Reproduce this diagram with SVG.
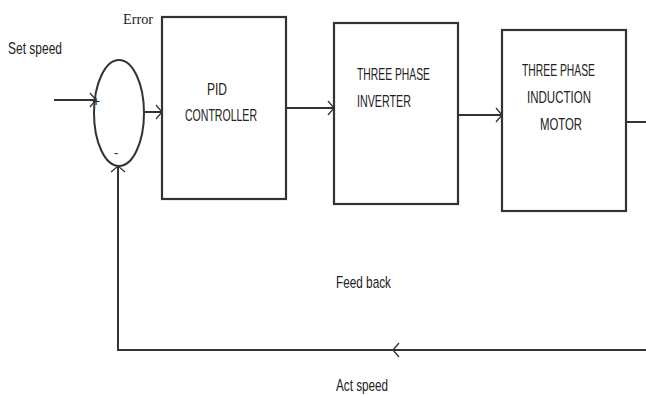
<svg xmlns="http://www.w3.org/2000/svg" width="646" height="396" viewBox="0 0 646 396">
<defs>
<marker id="chev" markerUnits="userSpaceOnUse" markerWidth="12" markerHeight="16" refX="7" refY="8" orient="auto">
<path d="M1,1 L7,8 L1,15" fill="none" stroke="#333" stroke-width="1.3"/>
</marker>
<style>
.box{fill:#fff;stroke:#333;stroke-width:2.2}
.ln{fill:none;stroke:#333;stroke-width:2}
.t{font-family:"Liberation Sans",Arial,sans-serif;font-size:17px;fill:#222}
.s{font-family:"Liberation Serif","Times New Roman",serif;font-size:14px;fill:#222}
</style>
</defs>
<rect width="646" height="396" fill="#fff"/>
<g id="labels">
<text class="t" x="8" y="54" textLength="54" lengthAdjust="spacingAndGlyphs">Set speed</text>
<text class="s" x="123" y="24" textLength="30" lengthAdjust="spacingAndGlyphs">Error</text>
<text class="t" x="336" y="288" textLength="55" lengthAdjust="spacingAndGlyphs">Feed back</text>
<text class="t" x="336" y="391" textLength="52" lengthAdjust="spacingAndGlyphs">Act speed</text>
</g>
<g id="sum">
<ellipse cx="119" cy="113" rx="25" ry="53" fill="#fff" stroke="#333" stroke-width="2"/>
<text class="t" x="92" y="106" style="font-size:14px">+</text>
<text class="t" x="114" y="157" style="font-size:13px">-</text>
</g>
<g id="pid">
<rect class="box" x="162" y="17" width="124" height="182"/>
<text class="t" x="207" y="95" textLength="20" lengthAdjust="spacingAndGlyphs">PID</text>
<text class="t" x="185" y="121" textLength="72" lengthAdjust="spacingAndGlyphs">CONTROLLER</text>
</g>
<g id="inverter">
<rect class="box" x="334" y="23" width="124" height="181"/>
<text class="t" x="357" y="80" textLength="73" lengthAdjust="spacingAndGlyphs">THREE PHASE</text>
<text class="t" x="357" y="107" textLength="54" lengthAdjust="spacingAndGlyphs">INVERTER</text>
</g>
<g id="motor">
<rect class="box" x="502" y="30" width="124" height="181"/>
<text class="t" x="522" y="76" textLength="73" lengthAdjust="spacingAndGlyphs">THREE PHASE</text>
<text class="t" x="527" y="103" textLength="64" lengthAdjust="spacingAndGlyphs">INDUCTION</text>
<text class="t" x="540" y="130" textLength="42" lengthAdjust="spacingAndGlyphs">MOTOR</text>
</g>
<g id="connectors">
<path class="ln" d="M54,100 L96,100" marker-end="url(#chev)"/>
<path class="ln" d="M144,112 L162,112" marker-end="url(#chev)"/>
<path class="ln" d="M286,108 L334,108" marker-end="url(#chev)"/>
<path class="ln" d="M458,115 L502,115" marker-end="url(#chev)"/>
<path class="ln" d="M626,122 L646,122"/>
<path class="ln" d="M646,350 L393,350" marker-end="url(#chev)"/>
<path class="ln" d="M393,350 L118,350 L118,166" marker-end="url(#chev)"/>
</g>
</svg>
